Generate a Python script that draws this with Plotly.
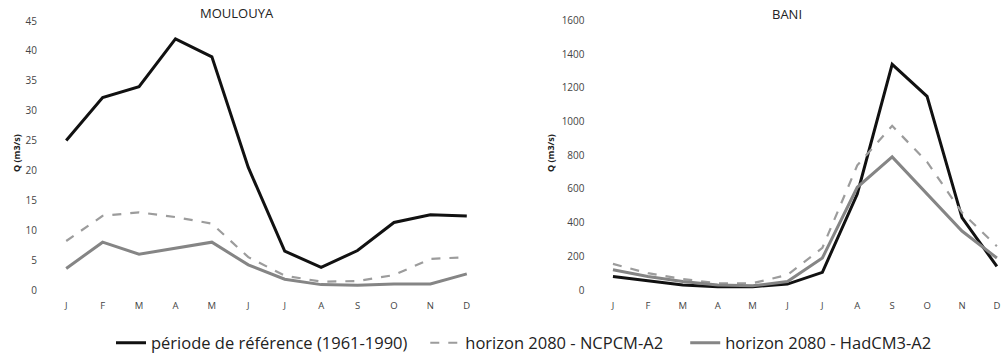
import plotly.graph_objects as go

months = ["J", "F", "M", "A", "M", "J", "J", "A", "S", "O", "N", "D"]
xs = list(range(12))

moulouya_ref = [25, 32.2, 34, 42, 39, 20.5, 6.5, 3.8, 6.6, 11.3, 12.6, 12.4]
moulouya_ncpcm = [8.2, 12.4, 13, 12.2, 11.1, 5.5, 2.4, 1.4, 1.5, 2.5, 5.2, 5.5]
moulouya_hadcm3 = [3.6, 8, 6, 7, 8, 4.2, 1.8, 0.9, 0.8, 1.0, 1.0, 2.7]

bani_ref = [80, 55, 30, 20, 20, 35, 105, 570, 1340, 1150, 430, 140]
bani_ncpcm = [155, 100, 65, 40, 40, 90, 250, 740, 975, 760, 460, 260]
bani_hadcm3 = [120, 80, 50, 30, 25, 50, 190, 610, 790, 570, 350, 190]

names = ["période de référence (1961-1990)" + "\u00a0" * 3,
         "horizon 2080 - NCPCM-A2" + "\u00a0" * 4,
         "horizon 2080 - HadCM3-A2"]
styles = [dict(color="#111111", width=3, dash="solid"),
          dict(color="#9c9c9c", width=2.2, dash="dash"),
          dict(color="#858585", width=3, dash="solid")]

fig = go.Figure()
for i, (series, xa, ya) in enumerate([
        ([moulouya_ref, moulouya_ncpcm, moulouya_hadcm3], "x", "y"),
        ([bani_ref, bani_ncpcm, bani_hadcm3], "x2", "y2")]):
    for j, s in enumerate(series):
        fig.add_trace(go.Scatter(x=xs, y=s, mode="lines", line=styles[j], name=names[j],
                                 showlegend=(i == 0), xaxis=xa, yaxis=ya))

W, H = 1007, 357
FONT = "Open Sans, Liberation Sans, sans-serif"
ytickfont = dict(family=FONT, size=10, color="#444444")
xtickfont = dict(family=FONT, size=9.5, color="#444444")
fig.update_layout(
    width=W, height=H, margin=dict(l=0, r=0, t=0, b=0, autoexpand=False),
    paper_bgcolor="white", plot_bgcolor="white",
    xaxis=dict(domain=[48 / W, 485 / W], range=[-0.5, 11.5], tickmode="array", tickvals=xs,
               ticktext=months, showgrid=False, zeroline=False, showline=False, ticks="",
               tickfont=xtickfont, ticklabelstandoff=8, automargin=False),
    yaxis=dict(domain=[1 - 290 / H, 1 - 21 / H], range=[0, 45], dtick=5, showgrid=False,
               zeroline=False, showline=False, ticks="", tickfont=ytickfont, ticklabelstandoff=10,
               automargin=False),
    xaxis2=dict(domain=[595.5 / W, 1], range=[-0.5, 11.29], tickmode="array", tickvals=xs,
                ticktext=months, showgrid=False, zeroline=False, showline=False, ticks="",
                tickfont=xtickfont, anchor="y2", ticklabelstandoff=8, automargin=False),
    yaxis2=dict(domain=[1 - 290 / H, 1 - 20.5 / H], range=[0, 1600], dtick=200, showgrid=False,
                zeroline=False, showline=False, ticks="", tickfont=ytickfont, anchor="x2",
                ticklabelstandoff=10, automargin=False),
    legend=dict(orientation="h", x=111 / W, xanchor="left", y=1 - 343 / H, yanchor="middle",
                font=dict(family=FONT, size=16.5, color="#222222"),
                itemwidth=30, tracegroupgap=0, bgcolor="rgba(0,0,0,0)"),
    showlegend=True,
)

ann_font = dict(family=FONT, size=13, color="#222222")
fig.add_annotation(text="MOULOUYA", x=237 / W, y=1 - 13 / H, xref="paper", yref="paper",
                   showarrow=False, font=ann_font, xanchor="center", yanchor="middle")
fig.add_annotation(text="BANI", x=787 / W, y=1 - 14 / H, xref="paper", yref="paper",
                   showarrow=False, font=ann_font, xanchor="center", yanchor="middle")
yt_font = dict(family=FONT, size=9, color="#222222")
fig.add_annotation(text="<b>Q (m3/s)</b>", x=16 / W, y=1 - 153 / H, xref="paper", yref="paper",
                   showarrow=False, font=yt_font, textangle=-90, xanchor="center", yanchor="middle")
fig.add_annotation(text="<b>Q (m3/s)</b>", x=550 / W, y=1 - 153 / H, xref="paper", yref="paper",
                   showarrow=False, font=yt_font, textangle=-90, xanchor="center", yanchor="middle")

fig.write_html("out.html", config={"displayModeBar": False},
               post_script="document.body.style.margin='0';document.body.style.overflow='hidden';")
